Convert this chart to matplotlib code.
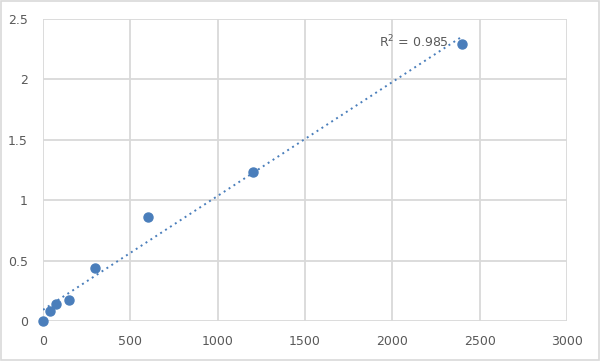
import numpy as np
import matplotlib.pyplot as plt
from matplotlib.patches import Rectangle

# Data ########################################################################
conc = [0, 37.5, 75, 150, 300, 600, 1200, 2400]
od = [0.0, 0.08, 0.14, 0.175, 0.44, 0.865, 1.235, 2.295]
r2_label = "R$^2$ = 0.985"

xticks = [0, 500, 1000, 1500, 2000, 2500, 3000]
yticks = [0, 0.5, 1, 1.5, 2, 2.5]
ytick_labels = ["0", "0.5", "1", "1.5", "2", "2.5"]

blue = "#4a7ebb"
grid_col = "#d9d9d9"
text_col = "#595959"

# Figure ######################################################################
fig = plt.figure(figsize=(6, 3.61), dpi=100)
ax = fig.add_axes([43 / 600, 1 - 321 / 361, 524 / 600, 302 / 361])

# Linear trendline
slope, icpt = np.polyfit(conc, od, 1)
xs = np.array([min(conc), max(conc)])
ax.plot(xs, slope * xs + icpt, linestyle=(0, (1, 2)), color=blue, lw=1.4,
        zorder=3)

ax.plot(conc, od, "o", color=blue, markersize=6.5, zorder=4, clip_on=False)
ax.text(2325, 2.31, r2_label, ha="right", va="center", fontsize=9,
        color=text_col, family="DejaVu Sans")

ax.set_xlim(0, 3000)
ax.set_ylim(0, 2.5)
ax.set_xticks(xticks)
ax.set_yticks(yticks)
ax.set_yticklabels(ytick_labels)
ax.grid(color=grid_col, lw=1.3)
ax.set_axisbelow(True)
for s in ax.spines.values():
    s.set_visible(False)
ax.tick_params(axis="y", length=0, colors=text_col, labelsize=9, pad=11)
ax.tick_params(axis="x", length=0, colors=text_col, labelsize=9, pad=10)

# Light frame around the chart
fig.patches.append(Rectangle((0.002, 0.003), 0.996, 0.994,
                             transform=fig.transFigure, fill=False,
                             ec=grid_col, lw=1.2))

fig.savefig("out.png", dpi=100)
plt.close()
